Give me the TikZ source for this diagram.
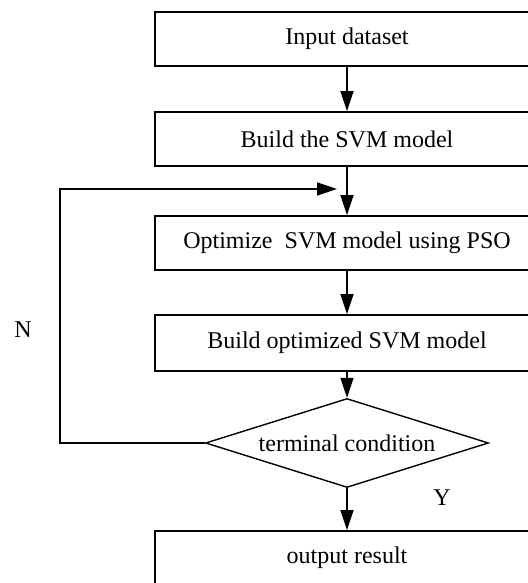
\documentclass[tikz,border=0pt]{standalone}
\usepackage{fontspec}
\setmainfont{Liberation Serif}
\usetikzlibrary{shapes.geometric,arrows.meta}

\tikzset{
	stepbox/.style = {draw, line width=0.9pt, minimum width=192pt, minimum height=27pt, inner sep=0pt},
	decision/.style = {draw, diamond, line width=0.7pt, aspect=3.2, minimum width=141.5pt, minimum height=44.5pt, inner sep=0pt},
	flow/.style = {line width=0.8pt, -{Triangle[length=10pt,width=6.5pt]}}
}

\begin{document}
\begin{tikzpicture}[x=0.5pt, y=0.5pt, font=\fontsize{12pt}{14pt}\selectfont]
	
	\useasboundingbox (0,0) rectangle (528,583);
	\clip (0,0) rectangle (528,583);
	
	\node[stepbox] (input) at (347,544) {Input dataset};
	\node[stepbox] (build) at (347,444) {Build the SVM model};
	\node[stepbox] (pso) at (347,340) {Optimize\ \ SVM model using PSO};
	\node[stepbox, minimum height=28pt] (opt) at (347,240) {Build optimized SVM model};
	\node[decision] (cond) at (347,140) {terminal condition};
	\node[stepbox] (out) at (347,25) {output result};
	
	\coordinate (join) at (347,394);
	\coordinate (corner) at (60,140);
	
	\draw[flow] (input) -- (build);
	\draw[flow] (build) -- (pso);
	\draw[flow] (pso) -- (opt);
	\draw[flow] (opt) -- (cond);
	\draw[flow] (cond) -- (out);
	\draw[flow, shorten >=5pt] (cond.west) -- (corner) |- (join);
	
	\node (no) at (23,253) {N};
	\node (yes) at (442,85) {Y};
	
\end{tikzpicture}
\end{document}
